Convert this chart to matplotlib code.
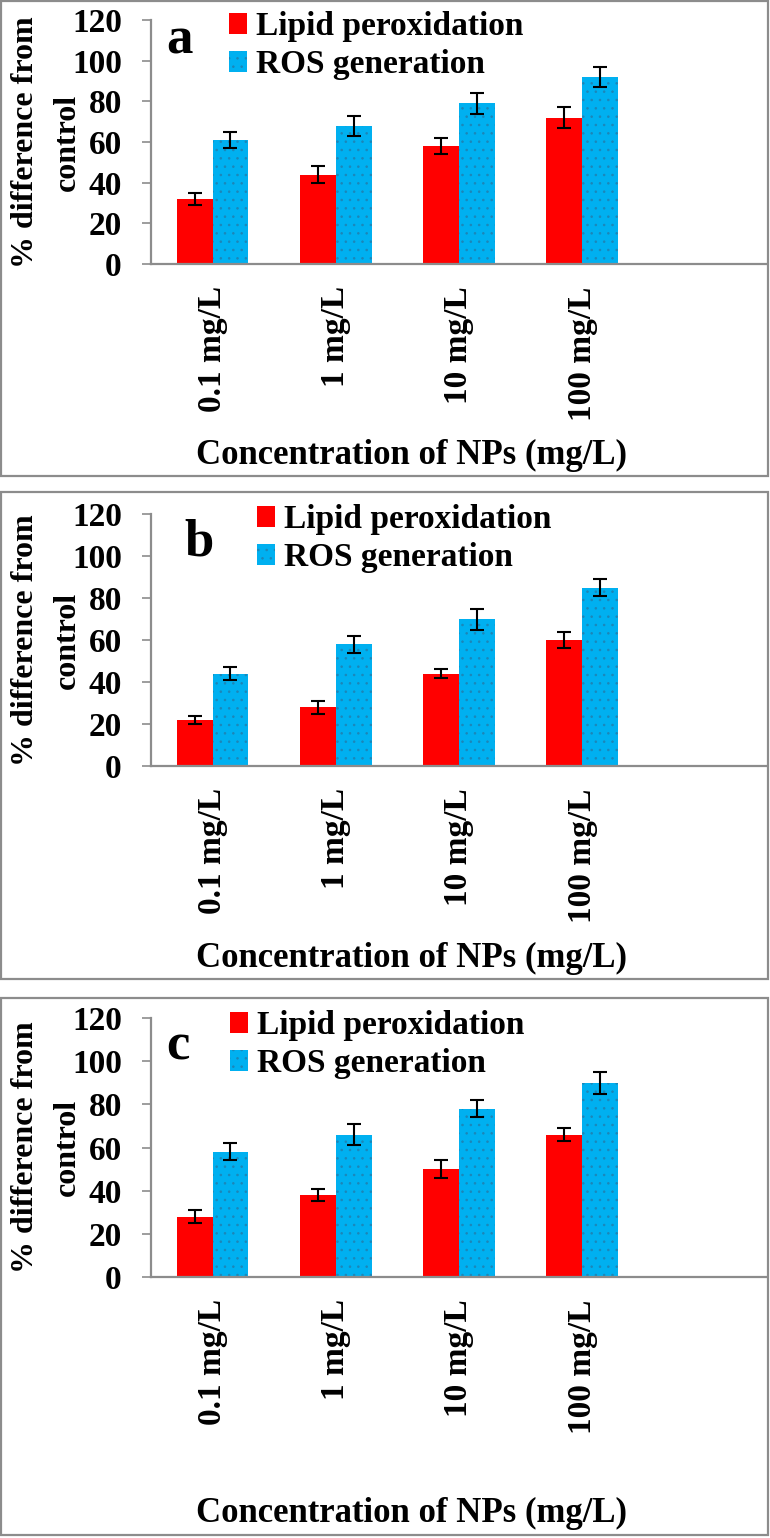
import matplotlib
matplotlib.use("Agg")
import matplotlib.pyplot as plt
from matplotlib.patches import Rectangle, Patch
import numpy as np

plt.rcParams['font.family'] = ['Liberation Serif', 'DejaVu Serif']
plt.rcParams['font.weight'] = 'bold'
plt.rcParams['hatch.linewidth'] = 0.6

categories = ['0.1 mg/L', '1 mg/L', '10 mg/L', '100 mg/L']
series_names = ['Lipid peroxidation', 'ROS generation']
panel_labels = ['a', 'b', 'c']

lipid_a = [32, 44, 58, 72]
lipid_a_err = [3, 4, 4, 5]
ros_a = [61, 68, 79, 92]
ros_a_err = [4, 5, 5, 5]

lipid_b = [22, 28, 44, 60]
lipid_b_err = [2, 3, 2, 4]
ros_b = [44, 58, 70, 85]
ros_b_err = [3, 4, 5, 4]

lipid_c = [28, 38, 50, 66]
lipid_c_err = [3, 3, 4, 3]
ros_c = [58, 66, 78, 90]
ros_c_err = [4, 5, 4, 5]

yticks = [0, 20, 40, 60, 80, 100, 120]
ylabel_lines = ['% difference from', 'control']
xlabel = 'Concentration of NPs (mg/L)'

RED = '#FF0000'
BLUE = '#00B0F0'
GRAY = '#8C8C8C'

W, H = 770, 1538
fig = plt.figure(figsize=(W / 100, H / 100), dpi=100)


def fx(px):
    return px / W


def fy(py):
    return 1 - py / H


layouts = [
    dict(btop=1, bbot=476, y120=20, y0=264, leg=(229, 11), letter=(166, 53), xl=455),
    dict(btop=492, bbot=979, y120=514, y0=766, leg=(257, 504), letter=(184, 555), xl=958),
    dict(btop=998, bbot=1535, y120=1018, y0=1277, leg=(230, 1010), letter=(166, 1060), xl=1513),
]
data = [
    (lipid_a, lipid_a_err, ros_a, ros_a_err),
    (lipid_b, lipid_b_err, ros_b, ros_b_err),
    (lipid_c, lipid_c_err, ros_c, ros_c_err),
]

ax_left, ax_right = 151, 767
bw = 0.29

for lay, (lp, lpe, rs, rse), letter in zip(layouts, data, panel_labels):
    fig.patches.append(Rectangle((fx(1), fy(lay['bbot'])), fx(767), (lay['bbot'] - lay['btop']) / H,
                                 transform=fig.transFigure, fill=False, edgecolor=GRAY, linewidth=1.6))
    ax = fig.add_axes([fx(ax_left), fy(lay['y0']), fx(ax_right - ax_left), (lay['y0'] - lay['y120']) / H])
    x = np.arange(len(categories))
    ax.bar(x - bw / 2, lp, bw, color=RED, linewidth=0, label=series_names[0])
    ax.bar(x + bw / 2, rs, bw, color=BLUE, edgecolor='#1C86B8', hatch='..', linewidth=0,
           label=series_names[1])
    ax.errorbar(x - bw / 2, lp, yerr=lpe, fmt='none', ecolor='black', elinewidth=1.5, capsize=5, capthick=1.5)
    ax.errorbar(x + bw / 2, rs, yerr=rse, fmt='none', ecolor='black', elinewidth=1.5, capsize=5, capthick=1.5)
    ax.set_xlim(-0.5, 4.5)
    ax.set_ylim(0, 120)
    ax.set_yticks(yticks)
    ax.set_yticklabels([str(t) for t in yticks], fontsize=24, fontweight='bold')
    ax.set_xticks(x)
    ax.set_xticklabels(categories, rotation=90, fontsize=24, fontweight='bold', va='top')
    ax.tick_params(axis='x', length=0, pad=16)
    ax.tick_params(axis='y', length=6.5, width=1.2, color=GRAY, pad=14.5)
    for s in ['top', 'right']:
        ax.spines[s].set_visible(False)
    for s in ['left', 'bottom']:
        ax.spines[s].set_color(GRAY)
        ax.spines[s].set_linewidth(1.6)

    handles = [Patch(facecolor=RED, linewidth=0),
               Patch(facecolor=BLUE, edgecolor='#1C86B8', hatch='..', linewidth=0)]
    ax.legend(handles, series_names, loc='upper left',
              bbox_to_anchor=(fx(lay['leg'][0]), fy(lay['leg'][1])), bbox_transform=fig.transFigure,
              frameon=False, prop=dict(family='Liberation Serif', weight='bold', size=24),
              borderpad=0, borderaxespad=0, handlelength=0.55, handleheight=0.6,
              handletextpad=0.25, labelspacing=0.22)

    fig.text(fx(lay['letter'][0]), fy(lay['letter'][1]), letter, fontsize=38, fontweight='bold',
             ha='left', va='baseline')
    ymid = (lay['y0'] + lay['y120']) / 2
    fig.text(fx(26), fy(ymid), ylabel_lines[0], rotation=90, fontsize=23,
             fontweight='bold', ha='center', va='center')
    fig.text(fx(67), fy(ymid), ylabel_lines[1], rotation=90, fontsize=23,
             fontweight='bold', ha='center', va='center')
    fig.text(fx(411), fy(lay['xl']), xlabel, fontsize=25, fontweight='bold', ha='center', va='center')

fig.savefig('out.png', dpi=100, facecolor='white')
